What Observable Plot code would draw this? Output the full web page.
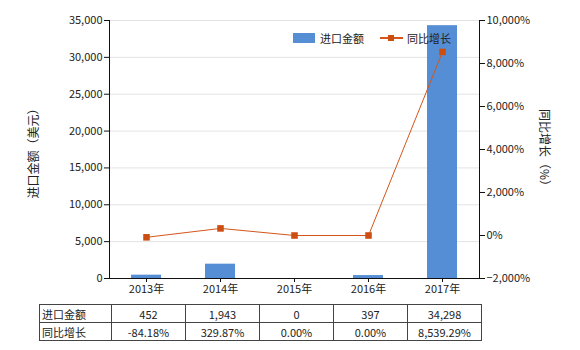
<!DOCTYPE html>
<html>
<head>
<meta charset="utf-8">
<script src="https://cdn.jsdelivr.net/npm/d3@7"></script>
<script src="https://cdn.jsdelivr.net/npm/@observablehq/plot@0.6"></script>
<style>
  body { margin: 0; background: #fff; font-family: "Noto Sans CJK SC", "Noto Sans", sans-serif; }
  #wrap { position: relative; width: 580px; height: 350px; overflow: hidden; }
  #chart { position: absolute; left: 0; top: 0; }
  .ytitle { position: absolute; font-size: 12px; color: #222; white-space: nowrap; }
  #legend { position: absolute; left: 293px; top: 30px; font-size: 11px; color: #222; display: flex; align-items: center; }
  #legend .sw { width: 22px; height: 10px; background: #558ed5; margin-right: 5px; }
  #legend .ln { position: relative; width: 23px; height: 2px; background: #d4561a; margin-left: 16px; margin-right: 4px; }
  #legend .ln::after { content: ""; position: absolute; left: 8px; top: -2px; width: 6px; height: 6px; background: #cc4e10; }
  table { position: absolute; left: 39px; top: 304px; border-collapse: collapse; font-size: 11px; color: #222; }
  td { border: 1px solid #444; height: 17px; padding: 0; text-align: center; width: 73px; }
  td.h { width: 69px; text-align: left; padding-left: 2px; }
</style>
</head>
<body>
<div id="wrap">
  <div id="chart"></div>
  <div class="ytitle" id="lt">进口金额（美元）</div>
  <div class="ytitle" id="rt">同比增长（%）</div>
  <div id="legend"><div class="sw"></div><span>进口金额</span><div class="ln"></div><span>同比增长</span></div>
  <table id="tbl"></table>
</div>
<script>
const years = ["2013年", "2014年", "2015年", "2016年", "2017年"];
const imports = [452, 1943, 0, 397, 34298];
const growth = [-84.18, 329.87, 0.00, 0.00, 8539.29];
const importLabels = ["452", "1,943", "0", "397", "34,298"];
const growthLabels = ["-84.18%", "329.87%", "0.00%", "0.00%", "8,539.29%"];
const leftTicks = [0, 5000, 10000, 15000, 20000, 25000, 30000, 35000];
const rightTicks = [-2000, 0, 2000, 4000, 6000, 8000, 10000];
const leftDomain = [0, 35000];
const rightDomain = [-2000, 10000];

const toLeft = p => (p - rightDomain[0]) * (leftDomain[1] - leftDomain[0]) / (rightDomain[1] - rightDomain[0]) + leftDomain[0];
const toRight = v => Math.round((v - leftDomain[0]) * (rightDomain[1] - rightDomain[0]) / (leftDomain[1] - leftDomain[0]) + rightDomain[0]);

const data = years.map((y, i) => ({year: y, imp: imports[i], g: growth[i], gl: toLeft(growth[i])}));

const fmt = d3.format(",");
const chart = Plot.plot({
  width: 580,
  height: 300,
  marginLeft: 109,
  marginRight: 101,
  marginTop: 20,
  marginBottom: 22,
  style: {fontFamily: '"Noto Sans CJK SC", "Noto Sans", sans-serif', fontSize: "11px", color: "#222"},
  x: {domain: years, paddingInner: 0.6, paddingOuter: 0.3},
  y: {domain: leftDomain},
  marks: [
    Plot.gridY(leftTicks.filter(d => d > 0), {stroke: "#e3e3e3", strokeOpacity: 1}),
    Plot.barY(data, {x: "year", y: "imp", fill: "#558ed5"}),
    Plot.frame({anchor: "left", stroke: "#111"}),
    Plot.frame({anchor: "right", stroke: "#111"}),
    Plot.frame({anchor: "bottom", stroke: "#111"}),
    Plot.axisY(leftTicks, {anchor: "left", tickFormat: fmt, tickSize: 5, tickPadding: 2, label: null, stroke: "#111", fill: "#222"}),
    Plot.axisY(rightTicks.map(toLeft), {anchor: "right", tickFormat: v => fmt(toRight(v)) + "%", tickSize: 5, tickPadding: 2, label: null, stroke: "#111", fill: "#222"}),
    Plot.axisX({anchor: "bottom", tickSize: 4, tickPadding: 3, label: null, stroke: "#111", fill: "#222"}),
    Plot.lineY(data, {x: "year", y: "gl", stroke: "#d4561a", strokeWidth: 1}),
    Plot.dot(data, {x: "year", y: "gl", symbol: "square", r: 3.7, fill: "#cc4e10", stroke: "none"})
  ]
});
document.getElementById("chart").appendChild(chart);

// table
const tbl = document.getElementById("tbl");
const rows = [["进口金额", importLabels], ["同比增长", growthLabels]];
for (const [name, vals] of rows) {
  const tr = document.createElement("tr");
  const th = document.createElement("td");
  th.className = "h"; th.textContent = name; tr.appendChild(th);
  for (const v of vals) { const td = document.createElement("td"); td.textContent = v; tr.appendChild(td); }
  tbl.appendChild(tr);
}

// axis titles
const lt = document.getElementById("lt");
lt.style.left = (32 - lt.offsetWidth / 2) + "px";
lt.style.top = (150 - lt.offsetHeight / 2) + "px";
lt.style.transform = "rotate(-90deg)";
const rt = document.getElementById("rt");
rt.style.left = (545 - rt.offsetWidth / 2) + "px";
rt.style.top = (150 - rt.offsetHeight / 2) + "px";
rt.style.transform = "rotate(90deg)";
</script>
</body>
</html>
